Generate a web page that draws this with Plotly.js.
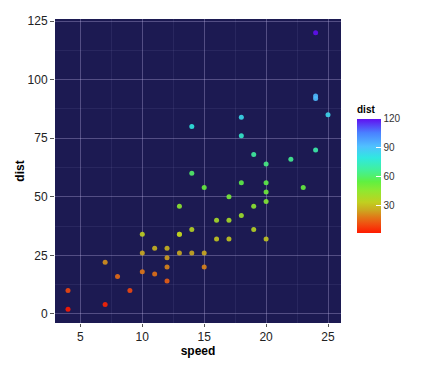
<!DOCTYPE html>
<html><head><meta charset="utf-8">
<script src="https://cdn.plot.ly/plotly-3.0.1.min.js"></script>
<style>html,body{margin:0;padding:0;background:#fff}</style>
</head><body><div id="chart" style="width:438px;height:366px"></div>
<script>
var speed = [4,4,7,7,8,9,10,10,10,11,11,12,12,12,12,13,13,13,13,14,14,14,14,15,15,15,16,16,17,17,17,18,18,18,18,19,19,19,20,20,20,20,20,22,23,24,24,24,24,25];
var dist = [2,10,4,22,16,10,18,26,34,17,28,14,20,24,28,26,34,34,46,26,36,60,80,20,26,54,32,40,32,40,50,42,56,76,84,36,46,68,32,48,52,56,64,66,54,70,92,93,120,85];
var xTicks = [5,10,15,20,25];
var yTicks = [0,25,50,75,100,125];
var cbTicks = [30,60,90,120];

var scale = [
 [0.00,'#ff1a00'],
 [0.08,'#f05010'],
 [0.14,'#e07a18'],
 [0.20,'#cca820'],
 [0.27,'#c0d020'],
 [0.37,'#90e830'],
 [0.45,'#60f040'],
 [0.50,'#50f070'],
 [0.56,'#40f0a0'],
 [0.66,'#30e8e0'],
 [0.76,'#50c0ff'],
 [0.88,'#4a80ff'],
 [1.00,'#6010f0']
];

var trace = {
  x: speed, y: dist, type:'scatter', mode:'markers',
  marker:{size:5, color: dist, cmin: Math.min.apply(null,dist), cmax: Math.max.apply(null,dist),
    colorscale: scale, opacity:0.9, line:{width:0},
    colorbar:{title:{text:'<b>dist</b>', side:'top', font:{size:10, color:'#000', family:'Liberation Sans, Arial'}},
      x:1.056, xanchor:'left', y:0.724, yanchor:'top', len:130, lenmode:'pixels',
      thickness:24, xpad:0, ypad:0, outlinewidth:0,
      tickvals: cbTicks, ticks:'inside', ticklen:5, tickcolor:'#ffffff', tickwidth:1,
      tickfont:{size:10, color:'#333', family:'Liberation Sans, Arial'}}}
};

var layout = {
  width:438, height:366,
  margin:{l:55, r:97, t:19, b:43},
  paper_bgcolor:'#ffffff', plot_bgcolor:'#1c1a52',
  showlegend:false,
  font:{family:'Liberation Sans, Arial', color:'#222'},
  xaxis:{range:[2.95,26.05], tickvals:xTicks, showgrid:true, gridcolor:'rgba(200,190,240,0.32)', gridwidth:1,
    minor:{tickvals:[2.5,7.5,12.5,17.5,22.5], showgrid:true, gridcolor:'rgba(200,190,240,0.14)', gridwidth:0.6, ticks:''},
    zeroline:false, ticks:'outside', ticklen:3, tickcolor:'#555', showline:false,
    tickfont:{size:12, color:'#222'},
    title:{text:'<b>speed</b>', font:{size:12, color:'#000'}, standoff:0}},
  yaxis:{range:[-3.9,125.9], tickvals:yTicks, showgrid:true, gridcolor:'rgba(200,190,240,0.32)', gridwidth:1,
    minor:{tickvals:[12.5,37.5,62.5,87.5,112.5], showgrid:true, gridcolor:'rgba(200,190,240,0.14)', gridwidth:0.6, ticks:''},
    zeroline:false, ticks:'outside', ticklen:4, tickcolor:'#555', showline:false,
    tickfont:{size:12, color:'#222'},
    title:{text:'<b>dist</b>', font:{size:12, color:'#000'}, standoff:0}}
};
Plotly.newPlot('chart',[trace],layout,{displayModeBar:false, staticPlot:true});
</script></body></html>
